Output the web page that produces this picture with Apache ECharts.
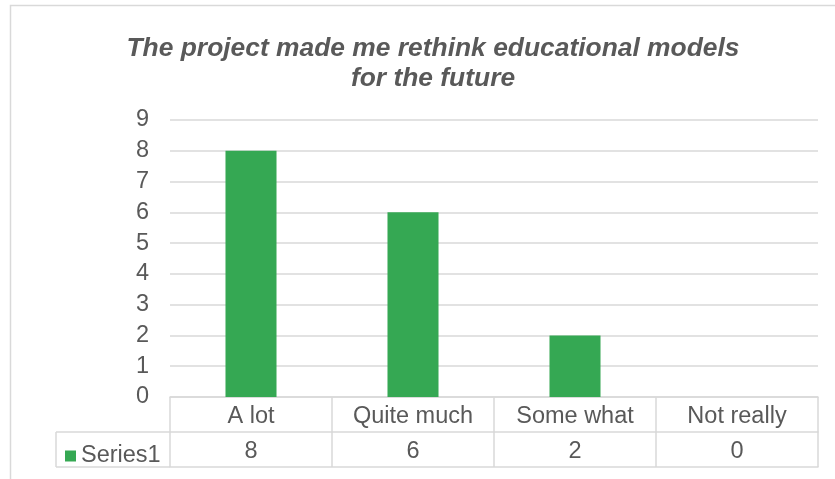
<!DOCTYPE html>
<html><head><meta charset="utf-8">
<script src="https://cdn.jsdelivr.net/npm/echarts@6/dist/echarts.min.js"></script>
<style>html,body{margin:0;padding:0;background:#fff}#c{width:835px;height:479px}</style>
</head><body><div id="c"></div>
<script>
const titleText = 'The project made me rethink educational models\nfor the future';
const categories = ['A lot', 'Quite much', 'Some what', 'Not really'];
const seriesName = 'Series1';
const values = [8, 6, 2, 0];
const yTicks = [0, 1, 2, 3, 4, 5, 6, 7, 8, 9];

const FONT = '"Liberation Sans", Arial, sans-serif';
const TXT = '#595959';
const LINE = '#d9d9d9';
const FS = 23.5;
const chart = echarts.init(document.getElementById('c'));
chart.setOption({
  animation: false,
  textStyle: { fontFamily: FONT },
  title: {
    text: titleText, left: 428, top: 29, textAlign: 'center',
    textStyle: { fontSize: 26.4, fontWeight: 'bold', fontStyle: 'italic', color: TXT, lineHeight: 30, fontFamily: FONT }
  },
  legend: {
    left: 60, top: 439, icon: 'rect', itemWidth: 11, itemHeight: 11, itemGap: 5,
    textStyle: { fontSize: FS, color: TXT, fontFamily: FONT },
    data: [seriesName], selectedMode: false
  },
  grid: { left: 170, right: 17, top: 120, bottom: 82 },
  xAxis: [{
    type: 'category', data: categories,
    axisLine: { lineStyle: { color: LINE, width: 1.5 } },
    axisTick: { show: true, length: 70, alignWithLabel: false, lineStyle: { color: LINE, width: 1.5 } },
    axisLabel: { fontSize: FS, color: TXT, margin: 8, fontFamily: FONT }
  }, {
    type: 'category', data: categories, position: 'bottom', offset: 35,
    axisLine: { show: true, lineStyle: { color: LINE, width: 1.5 } },
    axisTick: { show: false },
    axisLabel: { fontSize: FS, color: TXT, margin: 8, fontFamily: FONT, formatter: (v, i) => String(values[i]) }
  }, {
    type: 'category', data: categories, position: 'bottom', offset: 70,
    axisLine: { show: true, lineStyle: { color: LINE, width: 1.5 } },
    axisTick: { show: false }, axisLabel: { show: false }
  }],
  yAxis: {
    type: 'value', min: yTicks[0], max: yTicks[yTicks.length - 1], interval: 1,
    axisLine: { show: false }, axisTick: { show: false },
    axisLabel: { fontSize: FS, color: TXT, margin: 21, fontFamily: FONT },
    splitLine: { lineStyle: { color: LINE, width: 1.5 } }
  },
  series: [{
    name: seriesName, type: 'bar', data: values, barWidth: '31.5%',
    itemStyle: { color: '#35a853' }
  }],
  graphic: [
    { type: 'rect', shape: { x: 10.5, y: 5.5, width: 900, height: 600 }, style: { fill: 'none', stroke: LINE, lineWidth: 1.5 }, silent: true, z: -1 },
    { type: 'line', shape: { x1: 56, y1: 432, x2: 170, y2: 432 }, style: { stroke: LINE, lineWidth: 1.5 } },
    { type: 'line', shape: { x1: 56, y1: 467, x2: 170, y2: 467 }, style: { stroke: LINE, lineWidth: 1.5 } },
    { type: 'line', shape: { x1: 56, y1: 432, x2: 56, y2: 467 }, style: { stroke: LINE, lineWidth: 1.5 } }
  ]
});
</script></body></html>
